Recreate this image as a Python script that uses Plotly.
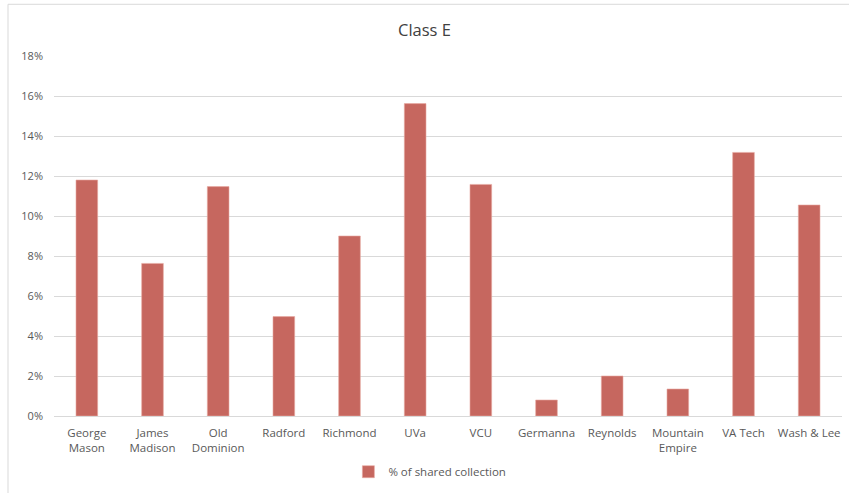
import plotly.graph_objects as go

categories = ["George<br>Mason", "James<br>Madison", "Old<br>Dominion", "Radford", "Richmond", "UVa",
              "VCU", "Germanna", "Reynolds", "Mountain<br>Empire", "VA Tech", "Wash & Lee"]
shared_pct = [11.8, 7.63, 11.47, 4.97, 9.0, 15.62, 11.58, 0.8, 2.0, 1.35, 13.18, 10.55]
y_ticks = [0, 2, 4, 6, 8, 10, 12, 14, 16, 18]
series_name = "% of shared collection"

FONT = "Open Sans"
TXT = "#595959"
BAR = "#C6675F"

L, R, T, B = 54, 7, 56, 75
W, H = 849, 493
pw, ph = W - L - R, H - T - B

fig = go.Figure()
fig.add_trace(go.Bar(
    x=categories, y=shared_pct, name=series_name,
    marker=dict(color=BAR, line=dict(color="#E8A9A3", width=0.6)),
    showlegend=True,
))

fig.update_layout(
    width=W, height=H,
    margin=dict(l=L, r=R, t=T, b=B),
    paper_bgcolor="white", plot_bgcolor="white",
    font=dict(family=FONT, size=11.5, color=TXT),
    title=dict(text="Class E", x=0.5, xanchor="center", y=1 - 30 / H, yanchor="middle",
               font=dict(family=FONT, size=16.5, color="#404040")),
    bargap=0.67,
    showlegend=True,
    legend=dict(orientation="h", x=0.477, xanchor="center", y=(418 - 474) / ph, yanchor="middle",
                font=dict(family=FONT, size=11.5, color=TXT), itemwidth=30),
    xaxis=dict(showgrid=False, showline=True, linecolor="#D9D9D9", linewidth=1,
               ticks="", ticklabelstandoff=6,
               tickfont=dict(family=FONT, size=11.5, color=TXT), tickangle=0),
    yaxis=dict(range=[0, 18], tickvals=y_ticks, ticktext=[f"{v}%" for v in y_ticks],
               showgrid=True, gridcolor="#D9D9D9", gridwidth=1, zeroline=False,
               showline=False, ticks="", ticklabelstandoff=10,
               tickfont=dict(family=FONT, size=11, color=TXT)),
    shapes=[
        dict(type="line", xref="paper", yref="paper",
             x0=(8 - L) / pw, x1=(8 - L) / pw, y0=-B / ph - 0.05, y1=(T - 4) / ph + 1,
             line=dict(color="#D9D9D9", width=1)),
        dict(type="line", xref="paper", yref="paper",
             x0=(8 - L) / pw, x1=(W - L) / pw, y0=(T - 4) / ph + 1, y1=(T - 4) / ph + 1,
             line=dict(color="#D9D9D9", width=1)),
    ],
)

fig.write_html("out.html")
